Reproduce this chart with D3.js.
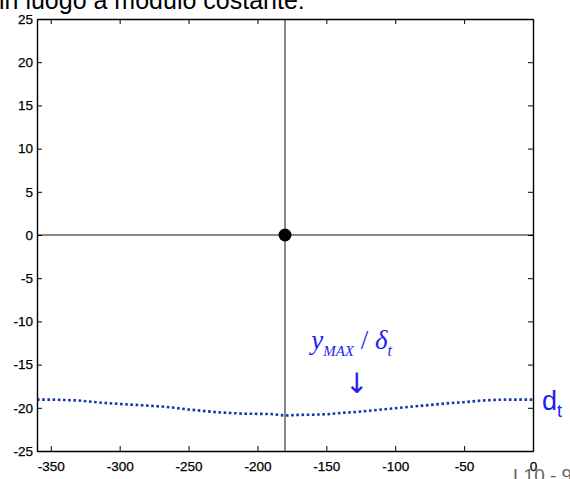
<!DOCTYPE html>
<html>
<head>
<meta charset="utf-8">
<script src="https://cdn.jsdelivr.net/npm/d3@7/dist/d3.min.js"></script>
<style>
  body { margin: 0; background: #fff; overflow: hidden; }
  svg { display: block; font-family: "Liberation Sans", Arial, sans-serif; }
</style>
</head>
<body>
<div id="chart"></div>
<script>
// Angle (deg) and the d_t curve
const angles = [-360, -350, -340, -330, -320, -310, -300, -290, -280, -270, -260, -250, -240, -230, -220, -210, -200, -190,
                -180, -170, -160, -150, -140, -130, -120, -110, -100, -90, -80, -70, -60, -50, -40, -30, -20, -10, 0];
const dtValues = [-19.05, -19.05, -19.1, -19.15, -19.3, -19.45, -19.55, -19.65, -19.75, -19.85, -20.0, -20.2, -20.35, -20.5, -20.6, -20.68, -20.7, -20.72,
                  -20.9, -20.82, -20.8, -20.75, -20.6, -20.5, -20.35, -20.2, -20.05, -19.9, -19.75, -19.6, -19.45, -19.35, -19.2, -19.1, -19.05, -19.05, -19.05];
const xTicks = [-350, -300, -250, -200, -150, -100, -50, 0];
const yTicks = [-25, -20, -15, -10, -5, 0, 5, 10, 15, 20, 25];
const origin = [-180, 0];

const width = 570, height = 479;
const margin = {top: 19, right: 37, bottom: 28, left: 37};
const w = width - margin.left - margin.right;
const h = height - margin.top - margin.bottom;

const svg = d3.select("#chart").append("svg")
    .attr("width", width)
    .attr("height", height);

// Title line cut off at the top of the slide
svg.append("text")
    .attr("x", -1)
    .attr("y", 9)
    .attr("font-size", 25)
    .attr("fill", "#000")
    .text("in luogo a modulo costante:");

// Slide number
svg.append("text")
    .attr("x", 513)
    .attr("y", 482)
    .attr("font-size", 19)
    .attr("fill", "#666")
    .text("L10 - 9");

const g = svg.append("g")
    .attr("transform", "translate(" + margin.left + "," + margin.top + ")");

const x = d3.scaleLinear().domain([-360, 0]).range([0, w]);
const y = d3.scaleLinear().domain([-25, 25]).range([h, 0]);

// Cross hair through the origin point
g.append("line")
    .attr("x1", x(origin[0])).attr("x2", x(origin[0]))
    .attr("y1", 0).attr("y2", h)
    .attr("stroke", "#111").attr("stroke-width", 1);
g.append("line")
    .attr("x1", 0).attr("x2", w)
    .attr("y1", y(origin[1])).attr("y2", y(origin[1]))
    .attr("stroke", "#111").attr("stroke-width", 1);

// d_t dotted curve
const line = d3.line()
    .x((d, i) => x(angles[i]))
    .y(d => y(d));
g.append("path")
    .datum(dtValues)
    .attr("d", line)
    .attr("fill", "none")
    .attr("stroke", "#1538a8")
    .attr("stroke-width", 2.6)
    .attr("stroke-dasharray", "2.6,2.6");

g.append("circle")
    .attr("cx", x(origin[0]))
    .attr("cy", y(origin[1]))
    .attr("r", 6.5)
    .attr("fill", "#000");

// Axes, ticks pointing inward on all four sides
function styleAxis(sel) {
    sel.selectAll("path").attr("stroke", "#000").attr("stroke-width", 1.4);
    sel.selectAll("line").attr("stroke", "#000");
    sel.selectAll("text").attr("font-size", 13.5).attr("fill", "#000")
        .attr("stroke", "#000").attr("stroke-width", 0.25)
        .attr("font-family", "'Liberation Sans', Arial, sans-serif");
}
const plain = d => String(d);

g.append("g")
    .attr("transform", "translate(0," + h + ")")
    .call(d3.axisBottom(x).tickValues(xTicks).tickFormat(plain).tickSizeInner(-5).tickSizeOuter(0).tickPadding(10))
    .call(styleAxis);
g.append("g")
    .call(d3.axisTop(x).tickValues(xTicks).tickSizeInner(-5).tickSizeOuter(0).tickFormat(""))
    .call(styleAxis);
g.append("g")
    .call(d3.axisLeft(y).tickValues(yTicks).tickFormat(plain).tickSizeInner(-5).tickSizeOuter(0).tickPadding(4))
    .call(styleAxis);
g.append("g")
    .attr("transform", "translate(" + w + ",0)")
    .call(d3.axisRight(y).tickValues(yTicks).tickSizeInner(-5).tickSizeOuter(0).tickFormat(""))
    .call(styleAxis);

// Annotations
const blue = "#1e1ef0";
const ann = g.append("text")
    .attr("x", x(-161))
    .attr("y", y(-13.2))
    .attr("fill", blue)
    .attr("font-family", "'Liberation Serif', 'Times New Roman', serif")
    .attr("font-style", "italic")
    .attr("font-size", 27);
ann.append("tspan").text("y");
ann.append("tspan").attr("font-size", 15).attr("dy", 7).text("MAX");
ann.append("tspan").attr("dy", -7).attr("font-style", "normal").text(" / ");
ann.append("tspan").text("δ");
ann.append("tspan").attr("font-size", 16).attr("dy", 7).text("t");

g.append("text")
    .attr("x", x(-128))
    .attr("y", y(-18.3))
    .attr("text-anchor", "middle")
    .attr("fill", blue)
    .attr("font-family", "'DejaVu Sans', sans-serif")
    .attr("font-size", 28)
    .text("↓");

const dt = g.append("text")
    .attr("x", x(0) + 9)
    .attr("y", y(-20.3))
    .attr("fill", blue)
    .attr("font-size", 27);
dt.append("tspan").text("d");
dt.append("tspan").attr("font-size", 18).attr("dy", 7).text("t");
</script>
</body>
</html>
